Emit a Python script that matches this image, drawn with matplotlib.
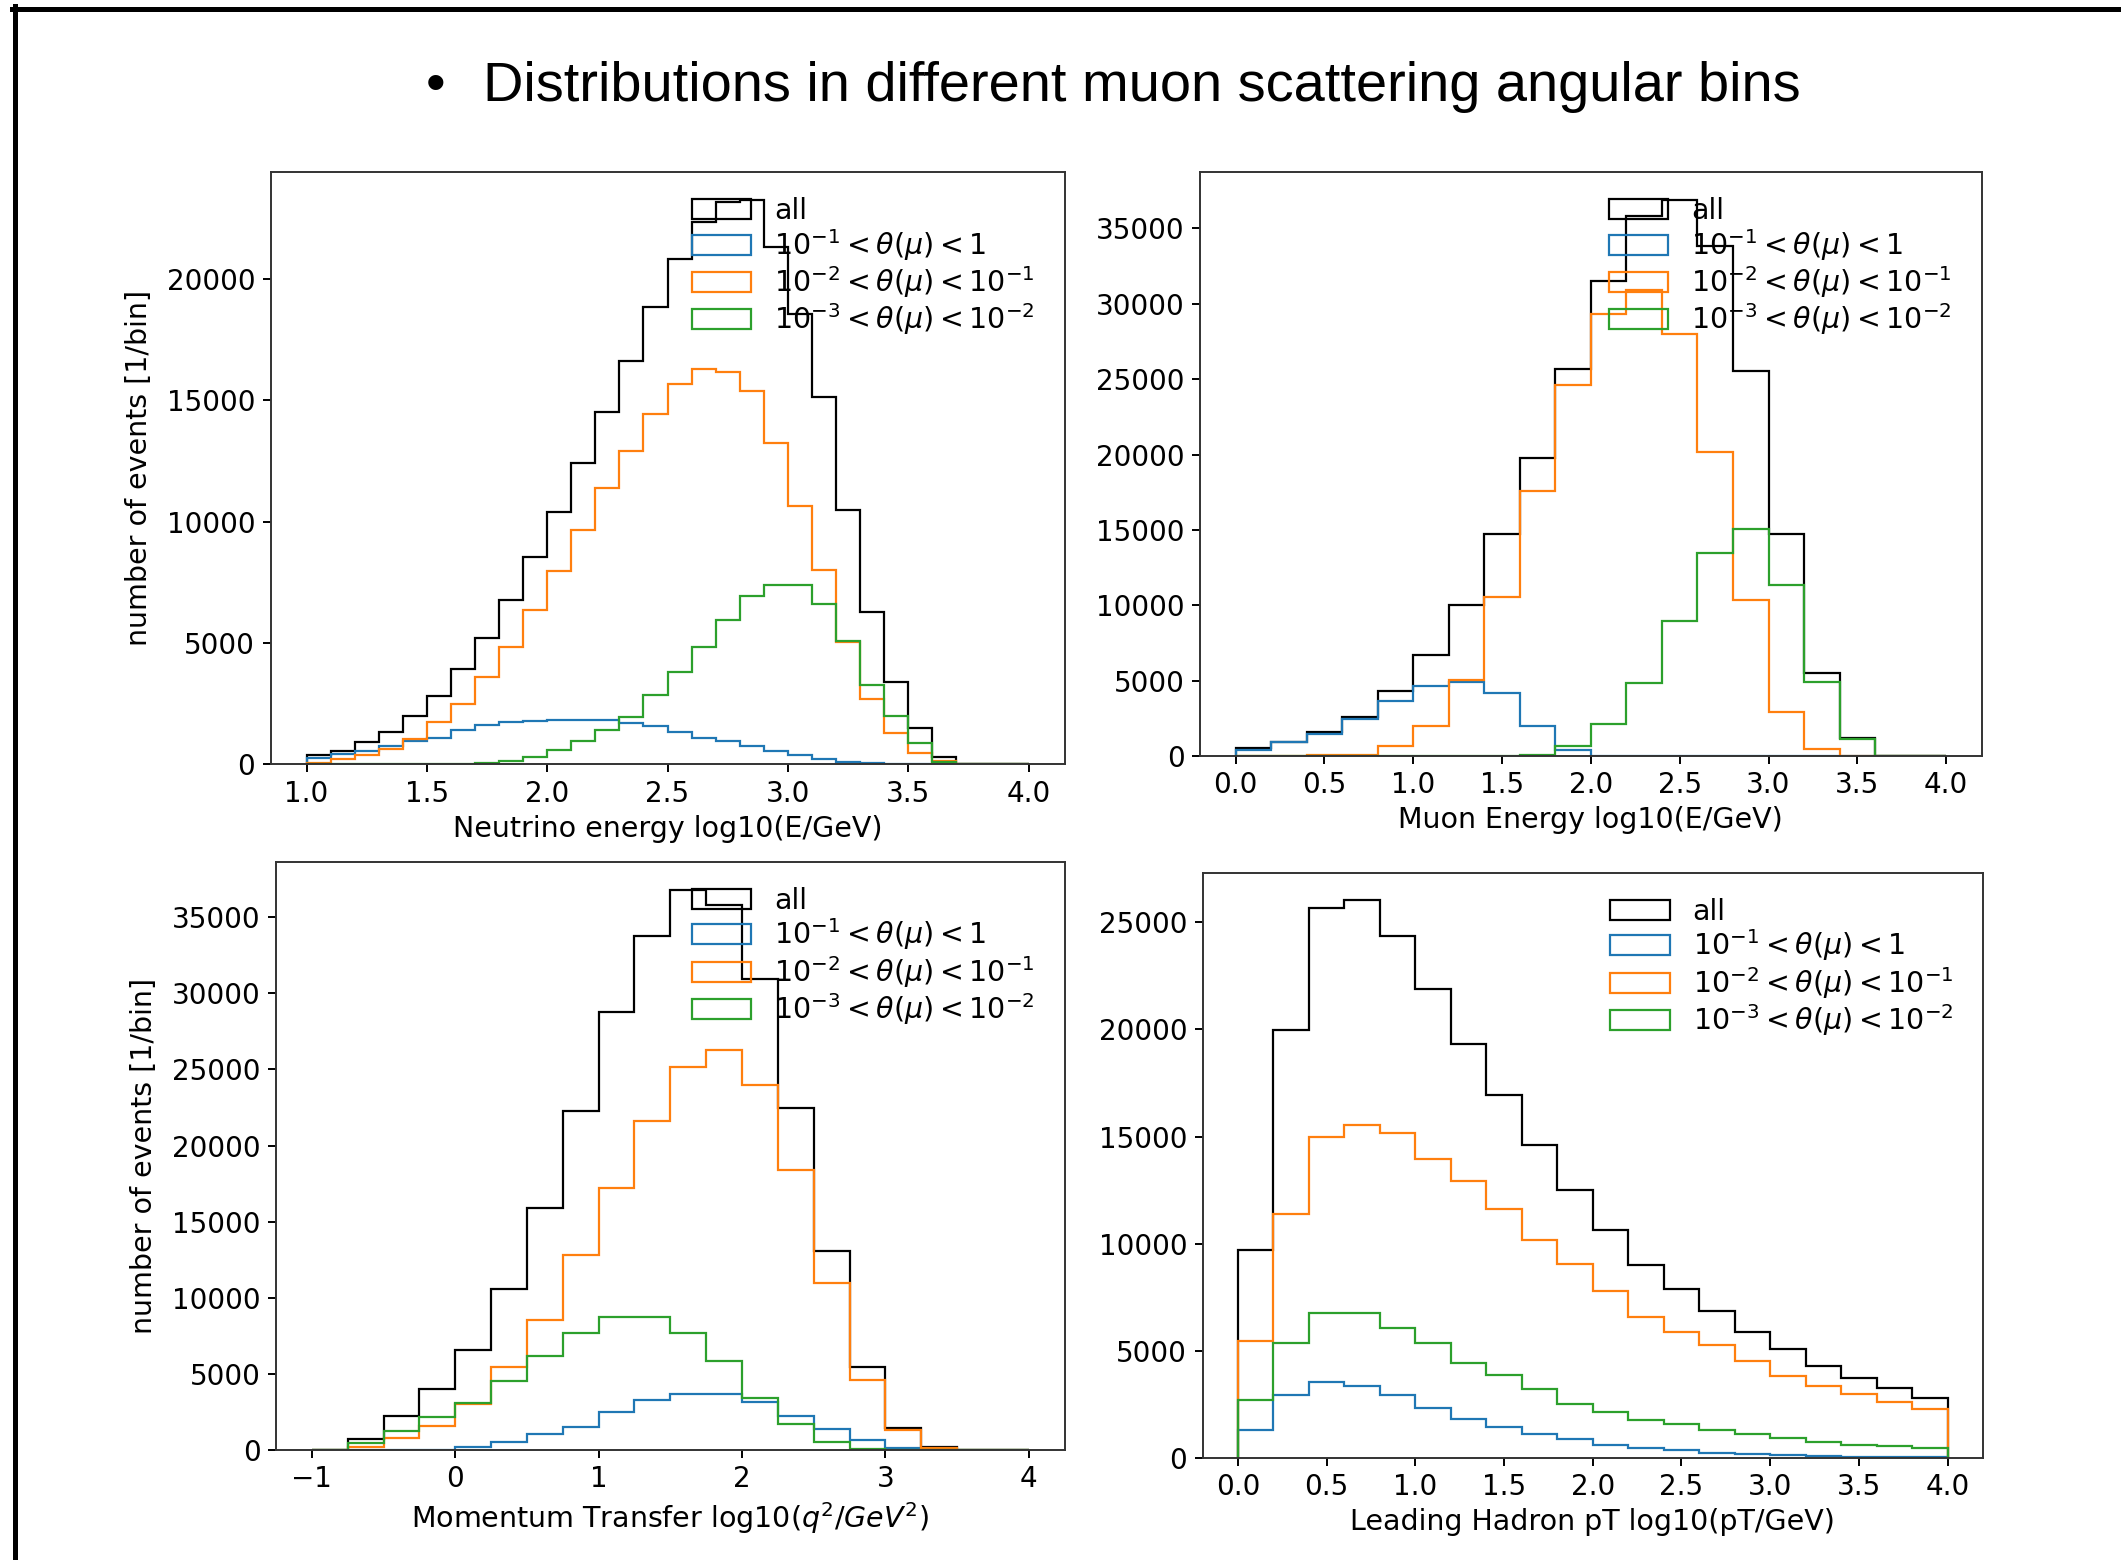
import numpy as np
import matplotlib
matplotlib.use("Agg")
import matplotlib.pyplot as plt
from matplotlib.lines import Line2D

# ---------------- data ----------------
labels = ["all", r"$10^{-1} < \theta(\mu) < 1$",
          r"$10^{-2} < \theta(\mu) < 10^{-1}$",
          r"$10^{-3} < \theta(\mu) < 10^{-2}$"]
colors = ["black", "#1f77b4", "#ff7f0e", "#2ca02c"]

# Panel 1: neutrino energy, bins 1.0 .. 4.0 (width 0.1)
nu_edges = np.round(np.arange(1.0, 4.0001, 0.1), 3)
nu_all = [370, 555, 909, 1313, 1987, 2828, 3923, 5219, 6785, 8552, 10404, 12424, 14529, 16633,
          18855, 20808, 22357, 23150, 23250, 21296, 18569, 15152, 10488, 6258, 3410, 1492, 288, 0, 0, 0]
nu_b1 = [269, 438, 555, 758, 976, 1094, 1431, 1599, 1734, 1768, 1818, 1818, 1818, 1684, 1566,
         1347, 1094, 976, 774, 555, 387, 219, 101, 50, 0, 0, 0, 0, 0, 0]
nu_b2 = [67, 219, 387, 640, 1061, 1734, 2492, 3586, 4848, 6364, 7963, 9646, 11364, 12929, 14444,
         15657, 16296, 16162, 15370, 13232, 10657, 8011, 5050, 2670, 1286, 452, 123, 0, 0, 0]
nu_b3 = [0, 0, 0, 0, 0, 0, 0, 50, 135, 303, 589, 943, 1397, 1953, 2862, 3788, 4848, 5943, 6953,
         7374, 7374, 6615, 5094, 3287, 1972, 875, 100, 0, 0, 0]

# Panel 2: muon energy, bins 0.0 .. 4.0 (width 0.2)
mu_edges = np.round(np.arange(0.0, 4.0001, 0.2), 3)
mu_all = [515, 948, 1598, 2573, 4307, 6690, 10022, 14735, 19773, 25680, 31480, 35810, 36900,
          33825, 25515, 14735, 5525, 1192, 0, 0]
mu_b1 = [406, 948, 1490, 2438, 3630, 4659, 4930, 4199, 2004, 379, 0, 0, 0, 0, 0, 0, 0, 0, 0, 0]
mu_b2 = [0, 0, 108, 108, 650, 2004, 5065, 10563, 17606, 24621, 29340, 30900, 27960, 20179,
         10347, 2898, 460, 0, 0, 0]
mu_b3 = [0, 0, 0, 0, 0, 0, 0, 0, 108, 677, 2140, 4848, 8992, 13462, 15087, 11349, 4930, 1138, 0, 0]

# Panel 3: momentum transfer, bins -1 .. 4 (width 0.25)
q_edges = np.round(np.arange(-1.0, 4.0001, 0.25), 3)
q_all = [0, 705, 2260, 4018, 6541, 10601, 15872, 22262, 28800, 33746, 36808, 35836, 30918,
         22439, 13074, 5448, 1472, 206, 0, 0]
q_b1 = [0, 0, 0, 0, 178, 547, 1054, 1531, 2473, 3298, 3681, 3681, 3151, 2208, 1384, 648, 118, 0, 0, 0]
q_b2 = [0, 178, 810, 1601, 3050, 5448, 8539, 12780, 17197, 21614, 25177, 26266, 23999, 18404,
        10954, 4623, 1325, 147, 0, 0]
q_b3 = [0, 441, 1271, 2154, 3076, 4565, 6146, 7715, 8746, 8746, 7715, 5860, 3445, 1737, 501, 59, 0, 0, 0, 0]

# Panel 4: leading hadron pT, bins 0.0 .. 4.0 (width 0.2)
pt_edges = np.round(np.arange(0.0, 4.0001, 0.2), 3)
pt_all = [9697, 19975, 25688, 26021, 24354, 21893, 19329, 16952, 14595, 12510, 10634, 9028,
          7882, 6881, 5901, 5067, 4316, 3753, 3274, 2815]
pt_b1 = [1293, 2961, 3545, 3378, 2919, 2335, 1835, 1460, 1105, 897, 626, 459, 355, 250, 167,
         125, 83, 63, 63, 42]
pt_b2 = [5463, 11405, 14992, 15555, 15180, 13970, 12907, 11614, 10155, 9049, 7798, 6568, 5901,
         5255, 4525, 3837, 3378, 2982, 2606, 2273]
pt_b3 = [2711, 5359, 6777, 6777, 6047, 5359, 4442, 3858, 3232, 2502, 2169, 1772, 1564, 1293,
         1105, 938, 730, 626, 542, 459]

xlabels = ["Neutrino energy log10(E/GeV)", "Muon Energy log10(E/GeV)",
           r"Momentum Transfer log10($q^2/GeV^2$)", "Leading Hadron pT log10(pT/GeV)"]
ylabel = "number of events [1/bin]"
title = "Distributions in different muon scattering angular bins"

# ---------------- figure ----------------
W, H = 2121, 1560
fig = plt.figure(figsize=(W / 100, H / 100), dpi=100)
FS = 20.5
TFS = 20
plt.rcParams["font.size"] = FS


def rect(l, r, t, b):
    return [l / W, 1 - b / H, (r - l) / W, (b - t) / H]


positions = [rect(270.5, 1064.6, 171.8, 764.3),
             rect(1200, 1981.7, 171.8, 756.2),
             rect(276, 1064.6, 861.7, 1450),
             rect(1202.5, 1983, 872.5, 1458)]

panels = [
    (nu_edges, [nu_all, nu_b1, nu_b2, nu_b3], np.arange(1.0, 4.01, 0.5), np.arange(0, 20001, 5000), True),
    (mu_edges, [mu_all, mu_b1, mu_b2, mu_b3], np.arange(0.0, 4.01, 0.5), np.arange(0, 35001, 5000), False),
    (q_edges, [q_all, q_b1, q_b2, q_b3], np.arange(-1, 4.01, 1), np.arange(0, 35001, 5000), True),
    (pt_edges, [pt_all, pt_b1, pt_b2, pt_b3], np.arange(0.0, 4.01, 0.5), np.arange(0, 25001, 5000), False),
]

for i, (edges, series, xt, yt, has_ylabel) in enumerate(panels):
    pos = positions[i]
    ax = fig.add_axes(pos)
    centers = 0.5 * (edges[:-1] + edges[1:])
    for vals, c, lab in zip(series, colors, labels):
        ax.hist(centers, bins=edges, weights=vals, histtype="step", color=c,
                linewidth=1.6, label=lab)
    ax.set_xticks(xt)
    ax.set_yticks(yt)
    if i == 2:
        ax.set_xticklabels([f"{int(v)}".replace("-", "\u2212") for v in xt])
    else:
        ax.set_xticklabels([f"{v:.1f}" for v in xt])
    ax.tick_params(labelsize=TFS, length=6, width=1.4, pad=5)
    for s in ax.spines.values():
        s.set_linewidth(1.4)
        s.set_color("#333333")
    ax.set_xlabel(xlabels[i], fontsize=FS, labelpad=5)
    if has_ylabel:
        ax.set_ylabel(ylabel, fontsize=FS, labelpad=10)
    ax_w_px = pos[2] * W
    ax_h_px = pos[3] * H
    ax.legend(loc="upper right", frameon=False, fontsize=FS, handlelength=2.1,
              handletextpad=0.8, labelspacing=0.05, borderaxespad=0.0,
              bbox_to_anchor=(1 - 18.5 / ax_w_px, 1 - 14.0 / ax_h_px))

# slide title and border
fig.text(436 / W, 1 - 87 / H, "\u2022", fontsize=40.3, family="Liberation Sans",
         ha="center", va="center")
fig.text(483 / W, 1 - 87 / H, title, fontsize=40.3, family="Liberation Sans",
         ha="left", va="center")
fig.add_artist(Line2D([12 / W, 1.0], [1 - 8.5 / H, 1 - 8.5 / H], color="black",
                      linewidth=3.6, transform=fig.transFigure))
fig.add_artist(Line2D([14.5 / W, 14.5 / W], [1 - 6 / H, 0.0], color="black",
                      linewidth=3.6, transform=fig.transFigure))

fig.savefig("out.png", dpi=100, facecolor="white")
